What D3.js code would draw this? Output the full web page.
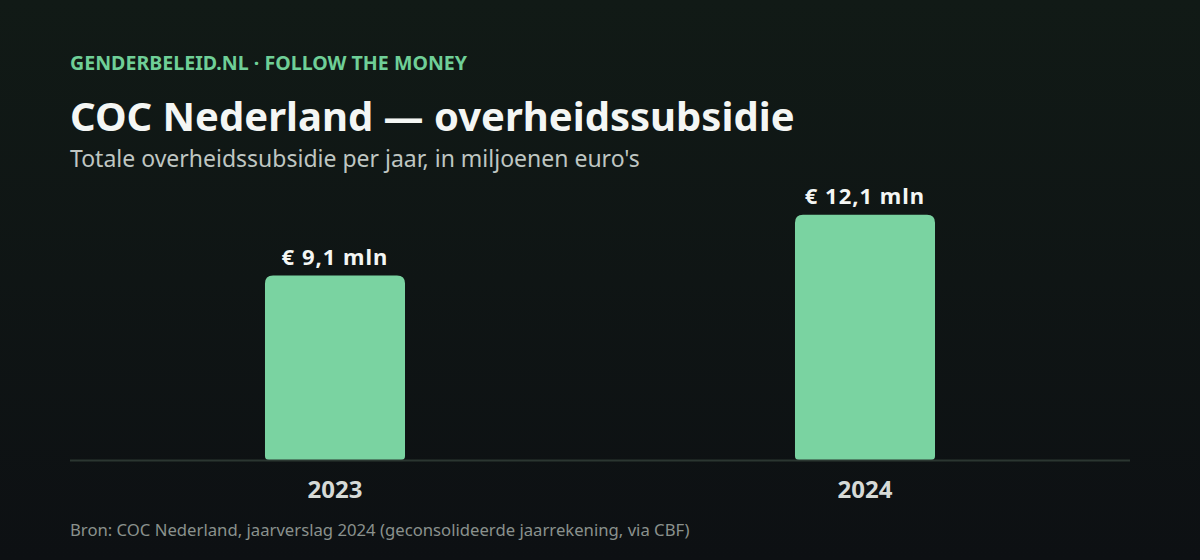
<html>
<head>
<meta charset="utf-8">
<script src="https://cdn.jsdelivr.net/npm/d3@7"></script>
<style>
  body, html { margin:0; padding:0; }
  body { font-family: "Noto Sans", "Open Sans", sans-serif; }
  svg { display:block; }
</style>
</head>
<body>
<svg id="chart" width="1200" height="560"></svg>
<script>
// data
var years = ["2023", "2024"];
var subsidies = [9.1, 12.1];
var valueLabels = ["€ 9,1 mln", "€ 12,1 mln"];

var W = 1200, H = 560;
var plotLeft = 70, plotRight = 1130, plotBase = 460, plotTop = 178;

var svg = d3.select("#chart");

var defs = svg.append("defs");
var grad = defs.append("linearGradient").attr("id", "bg").attr("x1", 0).attr("y1", 0).attr("x2", 0).attr("y2", 1);
grad.append("stop").attr("offset", "0%").attr("stop-color", "#111a16");
grad.append("stop").attr("offset", "100%").attr("stop-color", "#0d1013");
svg.append("rect").attr("width", W).attr("height", H).attr("fill", "url(#bg)");

// header
svg.append("text").attr("x", 70).attr("y", 70)
   .attr("fill", "#6fcf97").attr("font-size", 19.6).attr("font-weight", 700)
   .text("GENDERBELEID.NL · FOLLOW THE MONEY");
svg.append("text").attr("x", 70).attr("y", 131)
   .attr("fill", "#f4f6f4").attr("font-size", 40).attr("font-weight", 700)
   .text("COC Nederland — overheidssubsidie");
svg.append("text").attr("x", 70).attr("y", 167)
   .attr("fill", "#bfc6c2").attr("font-size", 23)
   .text("Totale overheidssubsidie per jaar, in miljoenen euro's");

var x = d3.scaleBand().domain(years).range([plotLeft, plotRight]).paddingInner(0.7358).paddingOuter(0.3679);
var y = d3.scaleLinear().domain([0, d3.max(subsidies) * 1.15]).range([plotBase, plotTop]);

var data = years.map(function(d, i){ return {year: d, value: subsidies[i], label: valueLabels[i]}; });

function barPath(x0, y0, w, h, rt, rb){
  return "M" + x0 + "," + (y0 + rt) +
    "Q" + x0 + "," + y0 + " " + (x0 + rt) + "," + y0 +
    "L" + (x0 + w - rt) + "," + y0 +
    "Q" + (x0 + w) + "," + y0 + " " + (x0 + w) + "," + (y0 + rt) +
    "L" + (x0 + w) + "," + (y0 + h - rb) +
    "Q" + (x0 + w) + "," + (y0 + h) + " " + (x0 + w - rb) + "," + (y0 + h) +
    "L" + (x0 + rb) + "," + (y0 + h) +
    "Q" + x0 + "," + (y0 + h) + " " + x0 + "," + (y0 + h - rb) + "Z";
}

svg.selectAll("path.bar").data(data).enter().append("path")
   .attr("class", "bar")
   .attr("fill", "#7ad3a1")
   .attr("d", function(d){
     return barPath(x(d.year), y(d.value), x.bandwidth(), plotBase - y(d.value), 8, 4);
   });

svg.append("line").attr("x1", plotLeft).attr("x2", plotRight).attr("y1", plotBase + 0.5).attr("y2", plotBase + 0.5)
   .attr("stroke", "#2b3631").attr("stroke-width", 2);

svg.selectAll("text.val").data(data).enter().append("text")
   .attr("class", "val")
   .attr("x", function(d){ return x(d.year) + x.bandwidth() / 2; })
   .attr("y", function(d){ return y(d.value) - 11; })
   .attr("text-anchor", "middle").attr("fill", "#f4f6f4")
   .attr("font-size", 22).attr("font-weight", 700).attr("letter-spacing", 1)
   .text(function(d){ return d.label; });

var xAxis = svg.append("g").attr("transform", "translate(0," + plotBase + ")")
   .call(d3.axisBottom(x).tickSize(0).tickPadding(0));
xAxis.select(".domain").remove();
xAxis.selectAll("text")
   .attr("y", 38).attr("dy", 0)
   .attr("fill", "#d6dad7").attr("font-size", 24).attr("font-weight", 700)
   .attr("font-family", "'Noto Sans', sans-serif");

svg.append("text").attr("x", 70).attr("y", 536)
   .attr("fill", "#8a918d").attr("font-size", 16.7)
   .text("Bron: COC Nederland, jaarverslag 2024 (geconsolideerde jaarrekening, via CBF)");
</script>
</body>
</html>
